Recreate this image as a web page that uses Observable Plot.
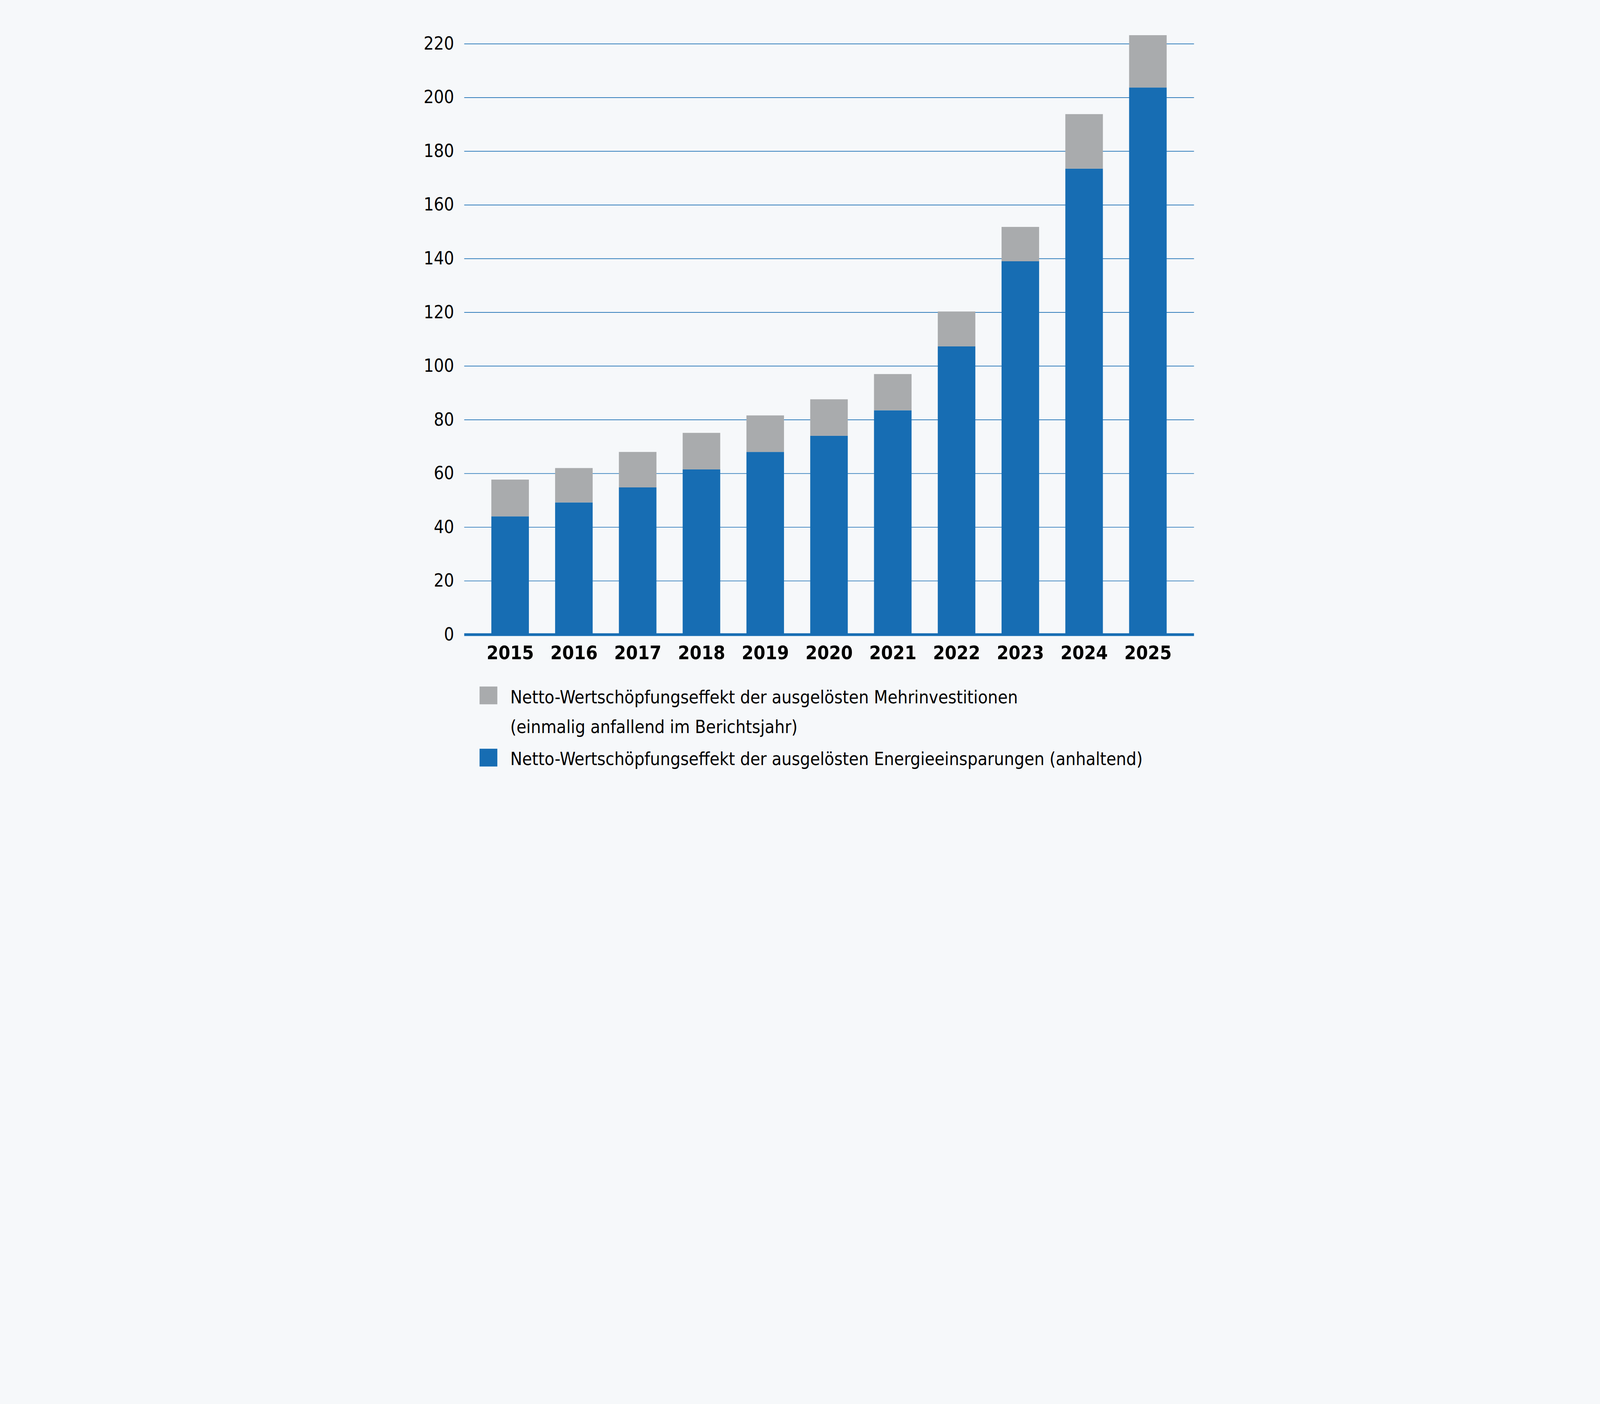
<!DOCTYPE html>
<html><head><meta charset="utf-8">
<script src="https://cdn.jsdelivr.net/npm/d3@7"></script>
<script src="https://cdn.jsdelivr.net/npm/@observablehq/plot@0.6"></script>
<style>
html,body{margin:0;padding:0;background:#f6f8fa;overflow:hidden;}
#stage{width:7200px;height:3595px;position:absolute;left:0;top:0;transform-origin:0 0;background:#f6f8fa;font-family:"DejaVu Sans Condensed","DejaVu Sans",sans-serif;}
#chart{position:absolute;left:0;top:0;}
.leg{position:absolute;font-size:80px;color:#000;white-space:nowrap;line-height:1;}
.sw{position:absolute;width:80px;height:80px;}
</style></head><body>
<div id="stage">
<div id="chart"></div>
<div class="sw" style="left:2158px;top:3090px;background:#a9abad"></div>
<div class="leg" style="left:2296px;top:3098px">Netto-Wertschöpfungseffekt der ausgelösten Mehrinvestitionen</div>
<div class="leg" style="left:2296px;top:3232px">(einmalig anfallend im Berichtsjahr)</div>
<div class="sw" style="left:2158px;top:3370px;background:#176db3"></div>
<div class="leg" style="left:2296px;top:3376px">Netto-Wertschöpfungseffekt der ausgelösten Energieeinsparungen (anhaltend)</div>
</div>
<script>
const years = ["2015","2016","2017","2018","2019","2020","2021","2022","2023","2024","2025"];
const energie = [44, 49.2, 54.8, 61.5, 68, 74, 83.5, 107.3, 139, 173.5, 203.7];
const total = [57.7, 62, 68, 75.1, 81.6, 87.6, 97, 120.3, 151.8, 193.8, 223.2];
const yTicks = [0,20,40,60,80,100,120,140,160,180,200,220];
const series = ["Energieeinsparungen","Mehrinvestitionen"];
const colors = ["#176db3","#a9abad"];
const data = years.flatMap((y,i)=>[
  {year:y, s:series[0], v:energie[i]},
  {year:y, s:series[1], v:total[i]-energie[i]}
]);
const chart = Plot.plot({
  width:7200, height:3000,
  marginLeft:2089, marginRight:1827, marginTop:197, marginBottom:144,
  style:{background:"transparent", fontFamily:"'DejaVu Sans Condensed','DejaVu Sans',sans-serif", color:"#000"},
  x:{domain:years, padding:0.41, label:null, tickSize:0, tickPadding:40},
  y:{domain:[0,220], ticks:yTicks, label:null, tickSize:0, tickPadding:46},
  color:{domain:series, range:colors},
  marks:[
    Plot.gridY(yTicks.filter(t=>t>0), {stroke:"#176db3", strokeOpacity:1, strokeWidth:3}),
    Plot.barY(data, {x:"year", y:"v", fill:"s", order:series}),
    Plot.ruleY([0], {stroke:"#176db3", strokeWidth:12}),
    Plot.axisY({ticks:yTicks, tickSize:0, tickPadding:46, fontSize:80, label:null}),
    Plot.axisX({tickSize:0, tickPadding:50, fontSize:85, fontWeight:"bold", label:null})
  ]
});
document.getElementById("chart").append(chart);
function fit(){
  const s = Math.min(window.innerWidth/7200, window.innerHeight/3595);
  document.getElementById("stage").style.transform = s < 0.999 ? `scale(${s})` : "none";
}
fit(); window.addEventListener("resize", fit);
</script>
</body></html>
